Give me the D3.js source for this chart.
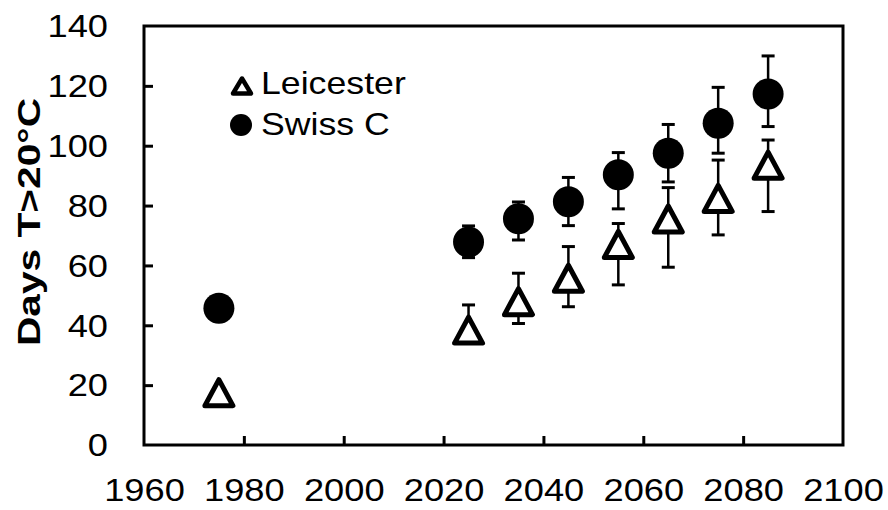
<!DOCTYPE html>
<html lang="en">
<head>
<meta charset="UTF-8">
<title>Days T>20°C</title>
<style>
    body { margin: 0; background: #fff; }
    svg text { font-family: "Liberation Sans", Arial, sans-serif; fill: #000; }
</style>
</head>
<body>
<svg id="chart" width="888" height="510"></svg>
<script src="https://cdnjs.cloudflare.com/ajax/libs/d3/7.8.5/d3.min.js"></script>
<script>
// data
const years = [1975, 2025, 2035, 2045, 2055, 2065, 2075, 2085];
const leicester     = [17.5, 38.4, 47.9, 55.7, 67.0, 75.5, 82.4, 93.5];
const leicesterLow  = [null, 35.0, 40.6, 46.2, 53.5, 59.4, 70.2, 78.0];
const leicesterHigh = [null, 46.8, 57.4, 66.3, 74.0, 86.0, 95.2, 101.9];
const swiss     = [45.7, 67.8, 75.6, 81.3, 90.3, 97.5, 107.5, 117.3];
const swissLow  = [null, 62.6, 68.5, 73.3, 78.9, 87.9, 97.5, 106.4];
const swissHigh = [null, 73.2, 81.2, 89.4, 97.7, 107.1, 119.5, 130.0];
const xTicks = [1960, 1980, 2000, 2020, 2040, 2060, 2080, 2100];
const yTicks = [0, 20, 40, 60, 80, 100, 120, 140];

const svg = d3.select('#chart');
const plot = { left: 144, right: 843, top: 26, bottom: 445 };
const stretch = 1.17; // text in the picture looks widened

const x = d3.scaleLinear().domain([1960, 2100]).range([plot.left, plot.right]);
const y = d3.scaleLinear().domain([0, 140]).range([plot.bottom, plot.top]);

// frame
svg.append('rect')
    .attr('x', plot.left).attr('y', plot.top)
    .attr('width', plot.right - plot.left).attr('height', plot.bottom - plot.top)
    .attr('fill', 'none').attr('stroke', '#000').attr('stroke-width', 3);

// axes, ticks pointing inside
const xAxis = svg.append('g')
    .attr('transform', `translate(0,${plot.bottom})`)
    .call(d3.axisBottom(x).tickValues(xTicks).tickSize(-9).tickFormat(d3.format('d')));
const yAxis = svg.append('g')
    .attr('transform', `translate(${plot.left},0)`)
    .call(d3.axisLeft(y).tickValues(yTicks).tickSize(-9));

[xAxis, yAxis].forEach(a => {
    a.select('.domain').remove();
    a.selectAll('line').attr('stroke', '#000').attr('stroke-width', 3);
    a.selectAll('text').attr('font-size', 31).style('font-family', '"Liberation Sans", Arial, sans-serif');
});
xAxis.selectAll('.tick line').filter(d => d === 1960 || d === 2100).remove();
yAxis.selectAll('.tick line').filter(d => d === 0 || d === 140).remove();

xAxis.selectAll('text')
    .attr('y', 0).attr('dy', null)
    .attr('transform', `translate(0,56) scale(${stretch},1)`);
yAxis.selectAll('text')
    .attr('x', 0).attr('dy', '0.35em')
    .attr('transform', `translate(-36,0) scale(${stretch},1)`);

// y axis title
svg.append('text')
    .attr('transform', `translate(40,222) rotate(-90)`)
    .attr('text-anchor', 'middle')
    .attr('font-size', 32)
    .attr('font-weight', 'bold')
    .attr('textLength', 248)
    .attr('lengthAdjust', 'spacingAndGlyphs')
    .text('Days T>20°C');

// error bars
function errorBars(low, high) {
    const idx = years.map((d, i) => i).filter(i => low[i] != null);
    const g = svg.append('g').attr('stroke', '#000');
    g.selectAll('line.v').data(idx).join('line')
        .attr('x1', i => x(years[i])).attr('x2', i => x(years[i]))
        .attr('y1', i => y(low[i])).attr('y2', i => y(high[i]))
        .attr('stroke-width', 2.5);
    [low, high].forEach(arr => {
        g.selectAll(null).data(idx).join('line')
            .attr('x1', i => x(years[i]) - 6.5).attr('x2', i => x(years[i]) + 6.5)
            .attr('y1', i => y(arr[i])).attr('y2', i => y(arr[i]))
            .attr('stroke-width', 3);
    });
}
errorBars(swissLow, swissHigh);
errorBars(leicesterLow, leicesterHigh);

// markers
function triangle(w, h) {
    return `M0,${-h / 2}L${w / 2},${h / 2}L${-w / 2},${h / 2}Z`;
}
svg.append('g').selectAll('circle').data(years).join('circle')
    .attr('cx', d => x(d))
    .attr('cy', (d, i) => y(swiss[i]))
    .attr('r', 15.5)
    .attr('fill', '#000');

svg.append('g').selectAll('path').data(years).join('path')
    .attr('d', triangle(28, 26))
    .attr('transform', (d, i) => `translate(${x(d)},${y(leicester[i])})`)
    .attr('fill', '#fff')
    .attr('stroke', '#000')
    .attr('stroke-width', 5)
    .attr('stroke-linejoin', 'round');

// legend
const legend = svg.append('g');
legend.append('path')
    .attr('d', triangle(18, 15))
    .attr('transform', 'translate(242,86)')
    .attr('fill', '#fff').attr('stroke', '#000').attr('stroke-width', 4.5)
    .attr('stroke-linejoin', 'round');
legend.append('circle').attr('cx', 241).attr('cy', 125).attr('r', 11).attr('fill', '#000');
legend.selectAll('text').data(['Leicester', 'Swiss C']).join('text')
    .attr('transform', (d, i) => `translate(261,${i === 0 ? 94 : 135}) scale(${stretch},1)`)
    .attr('font-size', 30.5)
    .text(d => d);
</script>
</body>
</html>
